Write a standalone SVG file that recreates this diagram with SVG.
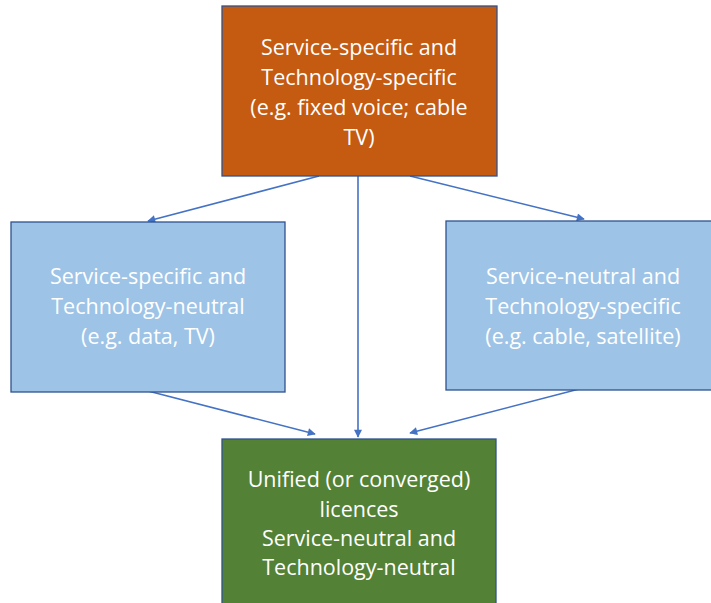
<svg xmlns="http://www.w3.org/2000/svg" width="711" height="603" viewBox="0 0 711 603">
  <style>
    .box { stroke: #2F528F; stroke-width: 1.3; }
    .lbl { font-family: "Open Sans", "Liberation Sans", sans-serif; font-size: 21.5px; fill: #FFFFFF; text-anchor: middle; }
    .conn { stroke: #4472C4; stroke-width: 1.6; fill: none; marker-end: url(#arrow); }
  </style>
  <defs>
    <marker id="arrow" viewBox="0 0 10 10" refX="9" refY="5" markerWidth="9" markerHeight="8" markerUnits="userSpaceOnUse" orient="auto">
      <path d="M0,0 L10,5 L0,10 z" fill="#4472C4"/>
    </marker>
  </defs>
  <rect width="711" height="603" fill="#FFFFFF"/>

  <g id="connectors">
    <line class="conn" x1="319" y1="176" x2="148" y2="221"/>
    <line class="conn" x1="358" y1="176" x2="358" y2="437"/>
    <line class="conn" x1="410" y1="176" x2="584" y2="219"/>
    <line class="conn" x1="148" y1="391" x2="315" y2="434"/>
    <line class="conn" x1="583" y1="388" x2="410" y2="433"/>
  </g>

  <g id="node-top">
    <rect class="box" x="222" y="6" width="275" height="170" fill="#C55A11"/>
    <text class="lbl" x="359" y="55">Service-specific and</text>
    <text class="lbl" x="359" y="85">Technology-specific</text>
    <text class="lbl" x="359" y="115">(e.g. fixed voice; cable</text>
    <text class="lbl" x="359" y="145">TV)</text>
  </g>

  <g id="node-left">
    <rect class="box" x="11" y="222" width="274" height="170" fill="#9DC3E6"/>
    <text class="lbl" x="148" y="284">Service-specific and</text>
    <text class="lbl" x="148" y="314">Technology-neutral</text>
    <text class="lbl" x="148" y="344">(e.g. data, TV)</text>
  </g>

  <g id="node-right">
    <rect class="box" x="446" y="221" width="275" height="169" fill="#9DC3E6"/>
    <text class="lbl" x="583" y="284">Service-neutral and</text>
    <text class="lbl" x="583" y="314">Technology-specific</text>
    <text class="lbl" x="583" y="344">(e.g. cable, satellite)</text>
  </g>

  <g id="node-bottom">
    <rect class="box" x="222" y="439" width="274" height="180" fill="#538135"/>
    <text class="lbl" x="359" y="487">Unified (or converged)</text>
    <text class="lbl" x="359" y="517">licences</text>
    <text class="lbl" x="359" y="546">Service-neutral and</text>
    <text class="lbl" x="359" y="575">Technology-neutral</text>
  </g>
</svg>
